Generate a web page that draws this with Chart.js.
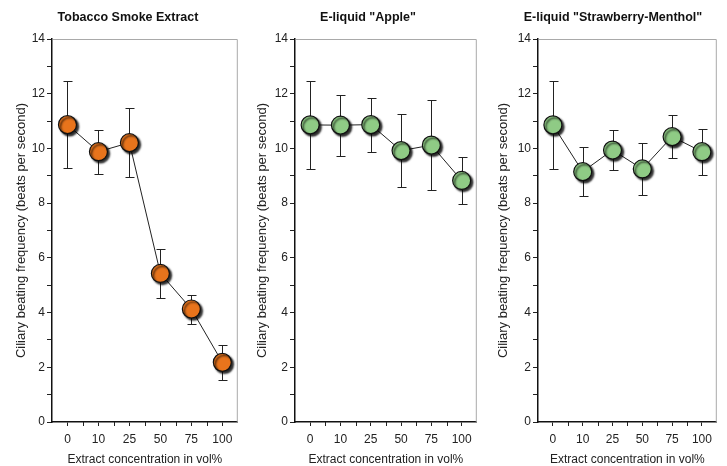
<!DOCTYPE html>
<html><head><meta charset="utf-8">
<script src="https://cdn.jsdelivr.net/npm/chart.js@4"></script>
<style>
html,body{margin:0;padding:0;background:#fff;}
#wrap{position:relative;width:727px;height:466px;overflow:hidden;background:#fff;}
canvas{position:absolute;top:0;}
</style></head><body>
<div id="wrap">
<canvas id="c1" width="240" height="466" style="left:8px"></canvas>
<canvas id="c2" width="238" height="466" style="left:249px"></canvas>
<canvas id="c3" width="236" height="466" style="left:491px"></canvas>
</div>
<script>
// ---- data ----
const concentrations = ['0', '10', '25', '50', '75', '100'];
const titles = ['Tobacco Smoke Extract', 'E-liquid "Apple"', 'E-liquid "Strawberry-Menthol"'];
const tseMean = [10.87, 9.88, 10.21, 5.43, 4.13, 2.18];
const tseErr  = [1.6, 0.8, 1.25, 0.9, 0.53, 0.64];
const appleMean = [10.86, 10.85, 10.87, 9.92, 10.12, 8.83];
const appleErr  = [1.6, 1.12, 0.99, 1.33, 1.64, 0.87];
const strawMean = [10.86, 9.15, 9.94, 9.25, 10.43, 9.88];
const strawErr  = [1.6, 0.9, 0.74, 0.96, 0.78, 0.84];
const yTickValues = [0, 2, 4, 6, 8, 10, 12, 14];
const yTitle = 'Ciliary beating frequency (beats per second)';
const xTitle = 'Extract concentration in vol%';

const ORANGE = '#E8741C';
const GREEN = '#8FCB85';
const FONT = '"Liberation Sans", Arial, Helvetica, sans-serif';

const errorBarPlugin = {
  id: 'errbars',
  beforeDatasetsDraw(chart, args, opts) {
    const {ctx} = chart;
    const xs = chart.scales.x, ys = chart.scales.y;
    ctx.save();
    ctx.strokeStyle = '#222';
    ctx.lineWidth = 1;
    opts.means.forEach((m, i) => {
      const x = Math.round(xs.getPixelForValue(i)) + 0.5;
      const yt = Math.round(ys.getPixelForValue(m + opts.errs[i])) + 0.5;
      const yb = Math.round(ys.getPixelForValue(m - opts.errs[i])) + 0.5;
      ctx.beginPath();
      ctx.moveTo(x, yt); ctx.lineTo(x, yb);
      ctx.moveTo(x - 4, yt); ctx.lineTo(x + 5, yt);
      ctx.moveTo(x - 4, yb); ctx.lineTo(x + 5, yb);
      ctx.stroke();
    });
    ctx.restore();
  },
  beforeDatasetDraw(chart, args) {
    if (args.index === 1) {
      const ctx = chart.ctx;
      ctx.save();
      ctx.shadowColor = 'rgba(0,0,0,0.85)';
      ctx.shadowOffsetX = 2;
      ctx.shadowOffsetY = 2;
      ctx.shadowBlur = 2;
    }
  },
  afterDatasetDraw(chart, args) {
    if (args.index === 1) chart.ctx.restore();
  },
  afterDraw(chart) {
    const {ctx, chartArea: a} = chart;
    const xs = chart.scales.x;
    ctx.save();
    ctx.strokeStyle = '#a9a9a9';
    ctx.lineWidth = 1;
    ctx.beginPath();
    ctx.moveTo(a.left + 1, a.top + 0.5);
    ctx.lineTo(a.right - 0.5, a.top + 0.5);
    ctx.lineTo(a.right - 0.5, a.bottom);
    ctx.stroke();
    // boundary ticks between categories
    ctx.strokeStyle = '#222';
    ctx.beginPath();
    for (let i = 1; i < concentrations.length; i++) {
      const x = Math.round((xs.getPixelForValue(i - 1) + xs.getPixelForValue(i)) / 2) + 0.5;
      ctx.moveTo(x, a.bottom); ctx.lineTo(x, a.bottom + 4);
    }
    ctx.stroke();
    ctx.restore();
  }
};

function makeChart(id, title, means, errs, color, padLeft, yWidth, padRight, yTitlePad) {
  new Chart(document.getElementById(id), {
    type: 'line',
    data: {
      labels: concentrations,
      datasets: [
        { data: means, order: 2, borderColor: '#222', borderWidth: 1, pointRadius: 0, fill: false, tension: 0 },
        { data: means, order: 1, showLine: false, pointRadius: 9, pointHoverRadius: 9,
          pointBackgroundColor: color, pointBorderColor: '#111', pointBorderWidth: 1.2 }
      ]
    },
    options: {
      responsive: false,
      animation: false,
      events: [],
      layout: { padding: { left: padLeft, right: padRight, top: 0, bottom: 0 } },
      plugins: {
        legend: { display: false },
        tooltip: { enabled: false },
        title: {
          display: true, text: title, color: '#111',
          font: { family: FONT, size: 12.5, weight: 'bold' },
          padding: { top: 10, bottom: 14 }
        },
        errbars: { means: means, errs: errs }
      },
      scales: {
        x: {
          type: 'category',
          offset: true,
          grid: { display: true, drawOnChartArea: false, drawTicks: true, tickLength: 4, offset: false, color: '#222' },
          border: { display: true, color: '#111', width: 1.5 },
          ticks: { color: '#222', font: { family: FONT, size: 12 }, padding: 6.5, maxRotation: 0, autoSkip: false },
          title: { display: true, text: xTitle, color: '#222', font: { family: FONT, size: 12 }, padding: { top: 0, bottom: -1 } },
          afterFit(s) { s.height = 44; }
        },
        y: {
          min: 0, max: 14,
          afterBuildTicks(s) {
            const t = [];
            for (let v = 0; v <= 14; v++) t.push({ value: v });
            s.ticks = t;
          },
          grid: { display: true, drawOnChartArea: false, drawTicks: true, tickLength: 5, color: '#222' },
          border: { display: true, color: '#111', width: 1.5 },
          ticks: {
            color: '#222', font: { family: FONT, size: 12 }, padding: 2, autoSkip: false,
            callback: (v) => yTickValues.includes(v) ? String(v) : ''
          },
          title: { display: true, text: yTitle, color: '#222', font: { family: FONT, size: 13 }, padding: { top: yTitlePad, bottom: 0 } },
          afterFit(s) { s.width = yWidth; }
        }
      }
    },
    plugins: [errorBarPlugin]
  });
}

makeChart('c1', titles[0], tseMean, tseErr, ORANGE, 10, 34, 10, -4.8);
makeChart('c2', titles[1], appleMean, appleErr, GREEN, 6, 40, 6, -0.8);
makeChart('c3', titles[2], strawMean, strawErr, GREEN, 13, 34, 5, -8.8);
</script>
</body></html>
